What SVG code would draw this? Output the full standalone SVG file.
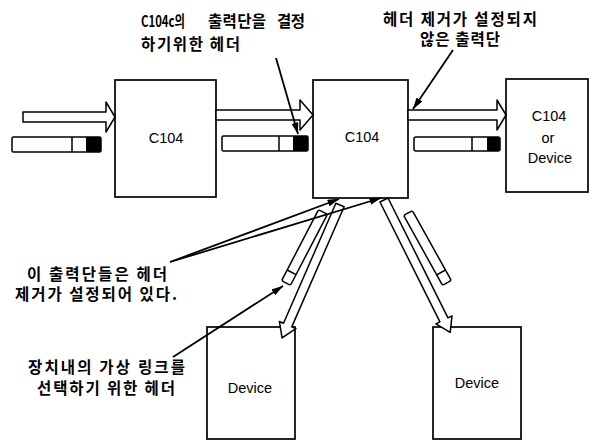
<svg xmlns="http://www.w3.org/2000/svg" width="591" height="441" viewBox="0 0 591 441">
<style>
.box{fill:#fff;stroke:#000;stroke-width:1.7}
.hollow{fill:#fff;stroke:#000;stroke-width:1.5;stroke-linejoin:round}
.pkt{fill:#fff;stroke:#000;stroke-width:1.5}
.hdr{fill:#000}
.div{stroke:#000;stroke-width:1.5}
.call{stroke:#000;stroke-width:1.8;fill:none;marker-end:url(#ah)}
.lbl{font-family:"Liberation Sans",Arial,sans-serif;font-size:14.5px;fill:#000;text-anchor:middle}
.kr{font-family:"Noto Sans CJK KR","Noto Sans",sans-serif;font-size:15.5px;font-weight:bold;fill:#000}
</style>
<defs>
<marker id="ah" viewBox="0 0 12 7" refX="11.5" refY="3.5" markerWidth="12" markerHeight="7" markerUnits="userSpaceOnUse" orient="auto">
<path d="M0,0 L12,3.5 L0,7 z" fill="#000"/>
</marker>
</defs>
<rect width="591" height="441" fill="#fff"/>

<g id="node-c104-left">
<rect class="box" x="115" y="80" width="101" height="117"/>
<text class="lbl" x="166" y="143">C104</text>
</g>
<g id="node-c104-mid">
<rect class="box" x="313" y="80" width="95" height="118"/>
<text class="lbl" x="362" y="142">C104</text>
</g>
<g id="node-c104-or-device">
<rect class="box" x="506" y="79" width="82" height="113"/>
<text class="lbl" x="549" y="121">C104</text>
<text class="lbl" x="548" y="143">or</text>
<text class="lbl" x="550" y="163">Device</text>
</g>
<g id="node-device-1">
<rect class="box" x="207" y="327" width="88" height="112"/>
<text class="lbl" x="250" y="393">Device</text>
</g>
<g id="node-device-2">
<rect class="box" x="433" y="327" width="88" height="112"/>
<text class="lbl" x="477" y="388">Device</text>
</g>

<g id="packets">
<g id="packet-1">
<rect class="pkt" x="12" y="137" width="89" height="15" rx="1.5"/>
<line class="div" x1="72" y1="137" x2="72" y2="152"/>
<rect class="hdr" x="86" y="137" width="15" height="15"/>
</g>
<g id="packet-2">
<rect class="pkt" x="222" y="136" width="86" height="15" rx="1.5"/>
<line class="div" x1="279" y1="136" x2="279" y2="151"/>
<rect class="hdr" x="293" y="136" width="15" height="15"/>
</g>
<g id="packet-3">
<rect class="pkt" x="414" y="137" width="86" height="14" rx="2"/>
<line class="div" x1="472" y1="137" x2="472" y2="151"/>
<path class="hdr" d="M487,137 H497 Q500,137 500,140 V148 Q500,151 497,151 H487 z"/>
</g>
<g id="packet-4" transform="translate(323,212) rotate(117.5)">
<rect class="pkt" x="0" y="-5" width="80" height="10" rx="2"/>
<line class="div" x1="68" y1="-5" x2="68" y2="5"/>
</g>
<g id="packet-5" transform="translate(408,213) rotate(60.9)">
<rect class="pkt" x="0" y="-5" width="80" height="10" rx="2"/>
<line class="div" x1="68" y1="-5" x2="68" y2="5"/>
</g>
</g>

<g id="connectors">
<polygon class="hollow" points="23,112 106,112 106,102 115,117 106,132 106,122 23,122"/>
<polygon class="hollow" points="216,110 300,110 300,100 313,115 300,130 300,120 216,120"/>
<polygon class="hollow" points="408,110 497,110 497,100 506,115 497,130 497,120 408,120"/>
<polygon class="hollow" transform="translate(340,205) rotate(113.56)" points="0,-4.5 131,-4.5 131,-9 145,0 131,9 131,4.5 0,4.5"/>
<polygon class="hollow" transform="translate(384,200) rotate(63.43)" points="0,-4.5 134,-4.5 134,-9 148,0 134,9 134,4.5 0,4.5"/>
<line class="call" x1="276" y1="58" x2="298" y2="134"/>
<line class="call" x1="453" y1="50" x2="413" y2="109"/>
<line class="call" x1="170" y1="262" x2="339" y2="199"/>
<line class="call" x1="170" y1="262" x2="381" y2="198"/>
<line class="call" x1="173" y1="357" x2="283" y2="286"/>
</g>

<g id="labels">
<text class="kr" x="141" y="27" textLength="44" lengthAdjust="spacingAndGlyphs">C104c의</text>
<text class="kr" x="208" y="27" textLength="58" lengthAdjust="spacing">출력단을</text>
<text class="kr" x="277" y="27" textLength="28" lengthAdjust="spacing">결정</text>
<text class="kr" x="141" y="50" textLength="99" lengthAdjust="spacing">하기위한 헤더</text>
<text class="kr" x="383" y="25" textLength="154" lengthAdjust="spacing">헤더 제거가 설정되지</text>
<text class="kr" x="420" y="45" textLength="80" lengthAdjust="spacing">않은 출력단</text>
<text class="kr" x="27" y="280" textLength="140" lengthAdjust="spacing">이 출력단들은 헤더</text>
<text class="kr" x="15" y="300" textLength="162" lengthAdjust="spacing">제거가 설정되어 있다.</text>
<text class="kr" x="28" y="373" textLength="157" lengthAdjust="spacing">장치내의 가상 링크를</text>
<text class="kr" x="37" y="394" textLength="138" lengthAdjust="spacing">선택하기 위한 헤더</text>
</g>
</svg>
